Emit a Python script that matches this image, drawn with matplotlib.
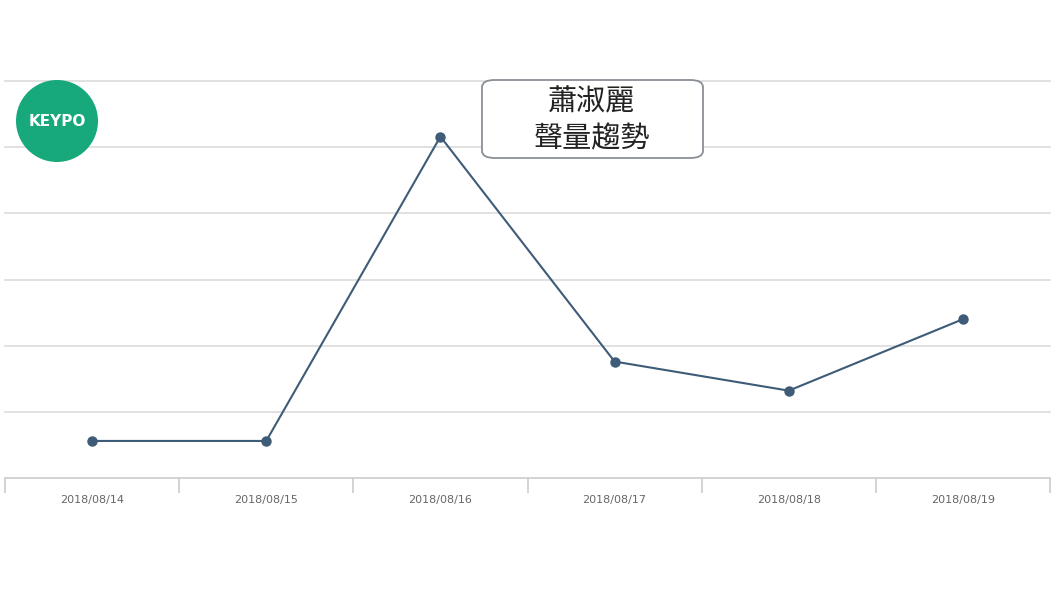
import matplotlib.pyplot as plt
import numpy as np
from matplotlib.patches import Circle, FancyBboxPatch

plt.rcParams['font.family'] = ['Noto Sans CJK TC', 'DejaVu Sans']

# Data (arbitrary volume units, grid step 50)
dates = ['2018/08/14', '2018/08/15', '2018/08/16', '2018/08/17', '2018/08/18', '2018/08/19']
volume = [28, 28, 258, 88, 66, 120]
grid_steps = [0, 50, 100, 150, 200, 250, 300]

fig = plt.figure(figsize=(10.6, 5.96), dpi=100)
ax = fig.add_axes([5 / 1060, 1 - 478 / 596, 1045 / 1060, 397 / 596])

x = np.arange(len(dates))
ax.plot(x, volume, color='#3e5b77', linewidth=1.5, marker='o', markersize=6.5, zorder=3)

ax.set_xlim(-0.5, len(dates) - 0.5)
ax.set_ylim(grid_steps[0], grid_steps[-1])
ax.set_yticks(grid_steps)
ax.set_yticklabels([])
ax.tick_params(axis='y', length=0)
for g in grid_steps[1:]:
    ax.axhline(g, color='#dcdcdc', linewidth=1.2, zorder=1, clip_on=False)

# Category labels in the middle, ticks at boundaries
ax.set_xticks(x)
ax.set_xticklabels(dates, fontsize=8, color='#666666', family='DejaVu Sans')
ax.tick_params(axis='x', which='major', length=0, pad=12)
ax.set_xticks(np.arange(-0.5, len(dates)), minor=True)
ax.tick_params(axis='x', which='minor', length=11, color='#cccccc', width=1.2)

for side in ['top', 'left', 'right']:
    ax.spines[side].set_visible(False)
ax.spines['bottom'].set_color('#cccccc')
ax.spines['bottom'].set_linewidth(1.2)

# KEYPO logo
logo = Circle((0.57, (596 - 121) / 100), 0.41, transform=fig.dpi_scale_trans,
              facecolor='#17a97b', edgecolor='none')
fig.patches.append(logo)
fig.text(57 / 1060, 1 - 122 / 596, 'KEYPO', color='white', fontsize=11, fontweight='bold',
         ha='center', va='center', family='DejaVu Sans')

# Title box
box = FancyBboxPatch((482 / 1060, 1 - 158 / 596), 221 / 1060, 78 / 596,
                     boxstyle='round,pad=0,rounding_size=0.012', transform=fig.transFigure,
                     facecolor='white', edgecolor='#8a8f96', linewidth=1.3)
fig.patches.append(box)
fig.text(592 / 1060, 1 - 102 / 596, '蕭淑麗', fontsize=21, ha='center', va='center', color='#222222')
fig.text(592 / 1060, 1 - 139 / 596, '聲量趨勢', fontsize=21, ha='center', va='center', color='#222222')

fig.savefig('out.png', dpi=100)
